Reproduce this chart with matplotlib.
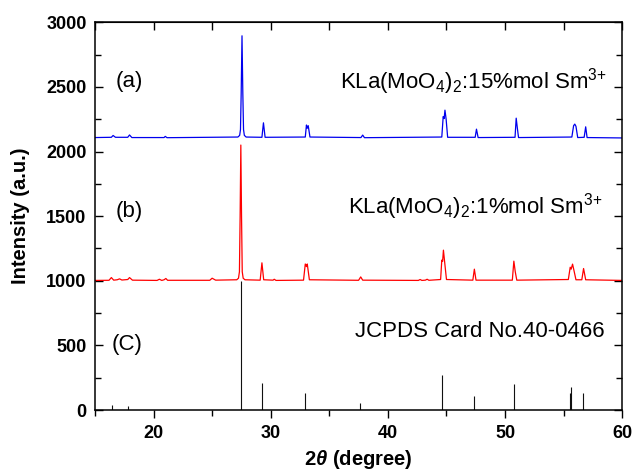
import matplotlib
matplotlib.use("Agg")
import matplotlib.pyplot as plt
from matplotlib.ticker import MultipleLocator

plt.rcParams['font.family'] = ['Liberation Sans', 'DejaVu Sans']
plt.rcParams['mathtext.fontset'] = 'custom'
plt.rcParams['mathtext.rm'] = 'Liberation Sans'
plt.rcParams['mathtext.it'] = 'Liberation Sans:bold:italic'
plt.rcParams['mathtext.bf'] = 'Liberation Sans:bold'
plt.rcParams['mathtext.default'] = 'regular'

# Sample (a): KLa(MoO4)2:15%mol Sm3+
a_x = [15.0, 16.4, 16.55, 16.75, 17.8, 17.95, 18.15, 20.9, 21.0, 21.15,
       27.2, 27.35, 27.42, 27.48, 27.55, 27.62, 27.68, 27.75, 27.9,
       29.25, 29.38, 29.52, 32.95, 33.05, 33.12, 33.2, 33.35,
       37.7, 37.85, 38.0, 44.6, 44.72, 44.8, 44.87, 44.97, 45.1,
       47.45, 47.56, 47.7, 50.85, 50.95, 51.05, 51.15,
       55.7, 55.85, 55.95, 56.05, 56.2, 56.75, 56.88, 57.0, 60.0]
a_y = [2108, 2110, 2124, 2110, 2110, 2128, 2108, 2108, 2117, 2107,
       2112, 2125, 2170, 2450, 2895, 2450, 2170, 2125, 2112,
       2110, 2222, 2110, 2112, 2205, 2180, 2200, 2112,
       2108, 2127, 2107, 2112, 2270, 2255, 2320, 2250, 2110,
       2110, 2173, 2108, 2110, 2258, 2180, 2108,
       2112, 2200, 2212, 2195, 2108, 2110, 2191, 2108, 2105]

# Sample (b): KLa(MoO4)2:1%mol Sm3+
b_x = [15.0, 16.2, 16.4, 16.6, 16.9, 17.1, 17.3, 17.8, 17.95, 18.2,
       20.3, 20.5, 20.7, 20.9, 21.05, 21.2, 24.8, 25.0, 25.3,
       27.1, 27.25, 27.33, 27.39, 27.45, 27.51, 27.57, 27.65, 27.8,
       29.1, 29.25, 29.4, 30.2, 30.3, 30.45,
       32.8, 32.95, 33.05, 33.12, 33.3, 37.5, 37.68, 37.85,
       42.6, 42.75, 42.9, 43.2, 43.35, 43.5,
       44.5, 44.6, 44.67, 44.74, 44.85, 45.0,
       47.25, 47.38, 47.52, 50.62, 50.75, 50.87, 51.0,
       55.4, 55.56, 55.64, 55.76, 55.88, 56.05, 56.55, 56.7, 56.88, 60.0]
b_y = [1003, 1004, 1025, 1005, 1008, 1015, 1006, 1010, 1025, 1005,
       1003, 1012, 1003, 1008, 1018, 1004, 1004, 1020, 1005,
       1008, 1020, 1070, 1500, 2050, 1500, 1070, 1020, 1008,
       1005, 1139, 1008, 1005, 1012, 1003,
       1005, 1130, 1110, 1130, 1008, 1004, 1030, 1005,
       1003, 1010, 1003, 1005, 1012, 1004,
       1010, 1160, 1150, 1237, 1140, 1010,
       1005, 1090, 1005, 1005, 1152, 1070, 1005,
       1010, 1105, 1090, 1129, 1080, 1008, 1008, 1095, 1008, 1003]

# (C) JCPDS Card No.40-0466 reference lines
card_pos = [16.42, 17.85, 27.45, 29.23, 32.93, 37.63, 44.6, 47.34, 50.75, 55.5, 55.65, 56.64]
card_int = [41, 31, 1000, 211, 134, 52, 270, 111, 201, 131, 180, 131]

x_ticks = [20, 30, 40, 50, 60]
y_ticks = [0, 500, 1000, 1500, 2000, 2500, 3000]

fig = plt.figure(figsize=(6.33, 4.73), dpi=100)
ax = fig.add_axes([0.150, 0.133, 0.833, 0.820])

ax.plot(a_x, a_y, color='#0000ee', lw=0.9)
ax.plot(b_x, b_y, color='#ff0000', lw=0.9)
ax.vlines(card_pos, 0, card_int, color='#111111', lw=0.8)

ax.set_xlim(15, 60)
ax.set_ylim(0, 3000)
ax.set_xticks(x_ticks)
ax.set_yticks(y_ticks)
ax.xaxis.set_minor_locator(MultipleLocator(5))
ax.yaxis.set_minor_locator(MultipleLocator(250))

for s in ax.spines.values():
    s.set_linewidth(1.1)

ax.tick_params(axis='x', which='both', direction='out', top=False, width=1.0)
ax.tick_params(axis='x', which='major', length=6, pad=5)
ax.tick_params(axis='x', which='minor', length=4)
ax.tick_params(axis='y', which='both', direction='in', right=True, width=1.0)
ax.tick_params(axis='y', which='major', length=6, pad=6)
ax.tick_params(axis='y', which='minor', length=4)

top = ax.secondary_xaxis('top')
top.set_xticks(x_ticks)
top.xaxis.set_minor_locator(MultipleLocator(5))
top.tick_params(which='both', direction='in', labeltop=False, width=1.0)
top.tick_params(which='major', length=6)
top.tick_params(which='minor', length=6)

for lab in ax.get_xticklabels() + ax.get_yticklabels():
    lab.set_fontsize(13)
    lab.set_fontweight('bold')

ax.set_xlabel(r'2$\mathit{\theta}$ (degree)', fontsize=14.5, fontweight='bold', labelpad=4)
ax.set_ylabel('Intensity (a.u.)', fontsize=14.5, fontweight='bold', labelpad=12)

ax.text(16.8, 2497, '(a)', fontsize=16, ha='left', va='baseline')
ax.text(16.8, 1495, '(b)', fontsize=16, ha='left', va='baseline')
ax.text(16.43, 464, '(C)', fontsize=16, ha='left', va='baseline')

ax.text(58.72, 2487, r'KLa(MoO$_4$)$_2$:15%mol Sm$^{\text{3+}}$', fontsize=16, ha='right', va='baseline')
ax.text(58.27, 1523, r'KLa(MoO$_4$)$_2$:1%mol Sm$^{\text{3+}}$', fontsize=16, ha='right', va='baseline')
ax.text(58.47, 567, 'JCPDS Card No.40-0466', fontsize=16, ha='right', va='baseline')

fig.savefig('out.png', dpi=100)
